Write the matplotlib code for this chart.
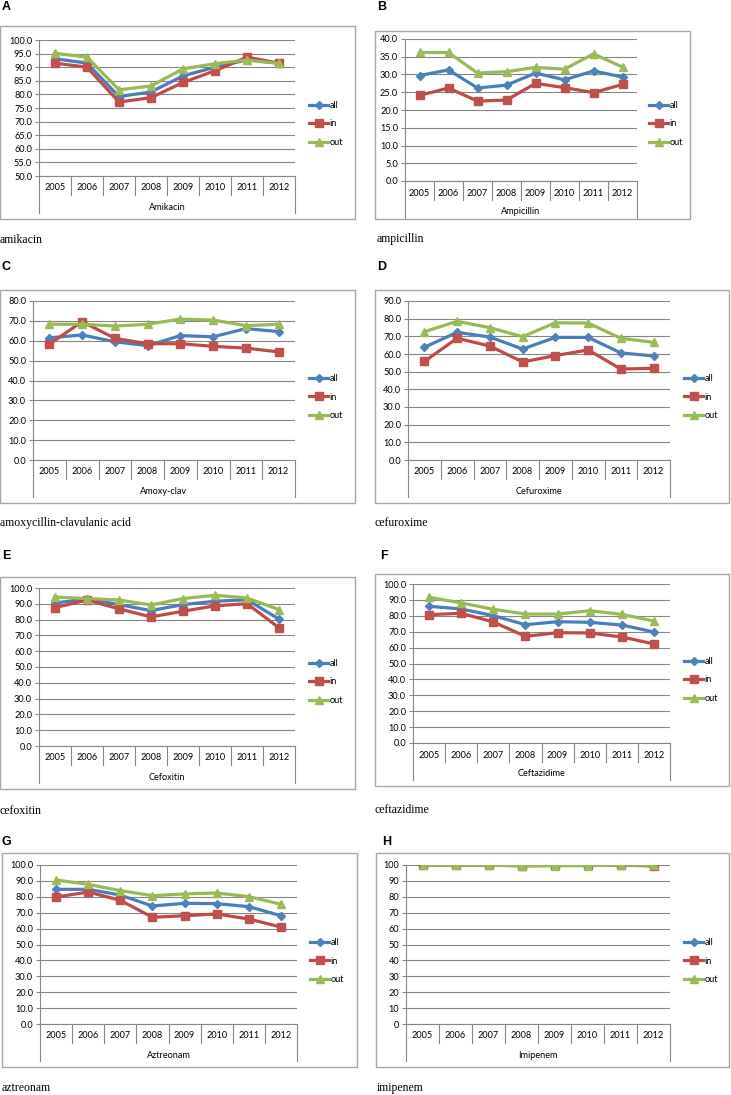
import matplotlib.pyplot as plt
from matplotlib.patches import Rectangle
from matplotlib.lines import Line2D
from matplotlib.transforms import blended_transform_factory

W, H = 731, 1095

years = ['2005', '2006', '2007', '2008', '2009', '2010', '2011', '2012']
series_names = ['all', 'in', 'out']

# resistance values
amikacin_all = [93.1, 91.5, 79.2, 80.9, 86.8, 90.0, 92.7, 91.5]
amikacin_in = [91.5, 90.0, 77.2, 78.8, 84.4, 88.7, 93.7, 91.5]
amikacin_out = [95.1, 93.7, 81.7, 83.1, 89.4, 91.3, 92.6, 91.4]

ampicillin_all = [29.7, 31.3, 26.2, 27.0, 30.4, 28.5, 31.0, 29.3]
ampicillin_in = [24.1, 26.2, 22.5, 22.8, 27.5, 26.3, 24.9, 27.2]
ampicillin_out = [36.2, 36.2, 30.4, 30.8, 32.0, 31.5, 35.8, 32.1]

amoxyclav_all = [61.5, 62.9, 59.5, 57.5, 62.6, 62.0, 66.1, 64.6]
amoxyclav_in = [58.3, 69.6, 61.2, 58.5, 58.5, 57.2, 56.3, 54.4]
amoxyclav_out = [68.3, 68.3, 67.4, 68.3, 70.9, 70.4, 67.6, 68.3]

cefuroxime_all = [63.8, 72.3, 69.6, 62.8, 69.4, 69.4, 60.6, 58.9]
cefuroxime_in = [55.8, 68.9, 64.5, 55.5, 59.1, 62.3, 51.5, 51.9]
cefuroxime_out = [72.6, 78.5, 74.9, 69.8, 77.7, 77.5, 68.9, 66.6]

cefoxitin_all = [90.5, 93.1, 89.5, 85.7, 89.5, 91.6, 92.6, 80.3]
cefoxitin_in = [87.6, 92.4, 86.8, 81.7, 85.3, 88.7, 90.1, 74.8]
cefoxitin_out = [94.3, 93.3, 92.4, 89.3, 93.3, 95.4, 93.7, 86.3]

ceftazidime_all = [86.0, 84.3, 80.1, 74.4, 76.3, 75.9, 74.2, 69.8]
ceftazidime_in = [80.7, 81.6, 76.1, 67.1, 69.4, 69.2, 66.7, 62.3]
ceftazidime_out = [91.6, 88.1, 84.1, 81.1, 81.1, 83.2, 80.9, 76.7]

aztreonam_all = [84.7, 84.7, 81.1, 74.2, 75.9, 75.7, 73.8, 68.1]
aztreonam_in = [79.9, 83.0, 77.8, 67.1, 68.1, 69.2, 66.0, 61.0]
aztreonam_out = [90.6, 87.8, 83.9, 80.7, 81.8, 82.4, 80.1, 75.3]

imipenem_all = [100.0, 100.0, 100.0, 99.8, 99.8, 99.8, 100.0, 99.6]
imipenem_in = [100.0, 100.0, 100.0, 99.6, 99.8, 99.7, 100.0, 99.4]
imipenem_out = [100.0, 100.0, 100.0, 99.3, 99.5, 99.6, 100.0, 99.8]

letters = ['A', 'B', 'C', 'D', 'E', 'F', 'G', 'H']
chart_titles = ['Amikacin', 'Ampicillin', 'Amoxy-clav', 'Cefuroxime',
                'Cefoxitin', 'Ceftazidime', 'Aztreonam', 'Imipenem']
captions = ['amikacin', 'ampicillin', 'amoxycillin-clavulanic acid', 'cefuroxime',
            'cefoxitin', 'ceftazidime', 'aztreonam', 'imipenem']
panel_data = [
    (amikacin_all, amikacin_in, amikacin_out),
    (ampicillin_all, ampicillin_in, ampicillin_out),
    (amoxyclav_all, amoxyclav_in, amoxyclav_out),
    (cefuroxime_all, cefuroxime_in, cefuroxime_out),
    (cefoxitin_all, cefoxitin_in, cefoxitin_out),
    (ceftazidime_all, ceftazidime_in, ceftazidime_out),
    (aztreonam_all, aztreonam_in, aztreonam_out),
    (imipenem_all, imipenem_in, imipenem_out),
]
y_ranges = [(50, 100, 5), (0, 40, 5), (0, 80, 10), (0, 90, 10),
            (0, 100, 10), (0, 100, 10), (0, 100, 10), (0, 100, 10)]
tick_fmt = ['%.1f'] * 7 + ['%d']

# pixel layout: frame box, plot box (left, right, top, bottom), legend x / y, letter, caption
layout = [
    dict(frame=(0, 26, 355, 219), plot=(39, 295, 40, 176), leg=(309, 124), letter=(2, 7), cap=(0, 240)),
    dict(frame=(375, 31, 690, 219), plot=(405, 637, 39, 181), leg=(649, 124), letter=(377, 7), cap=(377, 239)),
    dict(frame=(0, 290, 355, 503), plot=(33, 295, 301, 460), leg=(309, 397), letter=(2, 267), cap=(0, 523)),
    dict(frame=(375, 290, 729, 503), plot=(408, 670, 301, 460), leg=(684, 397), letter=(377, 267), cap=(375, 523)),
    dict(frame=(0, 577, 355, 789), plot=(39, 295, 588, 746), leg=(309, 682), letter=(2, 556), cap=(0, 811)),
    dict(frame=(375, 574, 729, 786), plot=(413, 670, 584, 743), leg=(684, 680), letter=(380, 556), cap=(375, 810)),
    dict(frame=(2, 853, 357, 1067), plot=(40, 297, 865, 1024), leg=(310, 961), letter=(2, 842), cap=(2, 1088)),
    dict(frame=(376, 853, 729, 1067), plot=(406, 670, 865, 1024), leg=(684, 961), letter=(382, 842), cap=(377, 1088)),
]

line_colors = ['#4A7EBB', '#BE4B48', '#98B954']
marker_colors = ['#4F81BD', '#C0504D', '#9BBB59']
markers = ['D', 's', '^']
marker_sizes = [4.2, 5.4, 5.6]
grid_col = '#868686'
font = 'Lato'
fs = 6.6

fig = plt.figure(figsize=(W / 100, H / 100), dpi=100)


def fx(x):
    return x / W


def fy(y):
    return 1 - y / H


for i in range(8):
    L = layout[i]
    x0, y0, x1, y1 = L['frame']
    fig.patches.append(Rectangle((fx(x0), fy(y1)), fx(x1 - x0), (y1 - y0) / H,
                                 transform=fig.transFigure, fill=False,
                                 edgecolor='#A6A6A6', linewidth=1.0))
    pl, pr, pt, pb = L['plot']
    ax = fig.add_axes([fx(pl), fy(pb), fx(pr - pl), (pb - pt) / H])
    lo, hi, step = y_ranges[i]
    xs = list(range(len(years)))
    for k in range(3):
        ax.plot(xs, panel_data[i][k], color=line_colors[k], linewidth=2.3,
                marker=markers[k], markersize=marker_sizes[k],
                markerfacecolor=marker_colors[k], markeredgecolor=marker_colors[k],
                label=series_names[k], zorder=3 + k)
    ax.set_xlim(-0.5, len(years) - 0.5)
    ax.set_ylim(lo, hi)
    ticks = list(range(lo, hi + 1, step))
    ax.set_yticks(ticks)
    ax.set_yticklabels([tick_fmt[i] % t for t in ticks], fontsize=fs, family=font)
    ax.set_xticks([])
    ax.yaxis.grid(True, color=grid_col, linewidth=0.8)
    ax.set_axisbelow(True)
    for s in ['top', 'right']:
        ax.spines[s].set_visible(False)
    ax.spines['left'].set_color(grid_col)
    ax.spines['bottom'].set_color(grid_col)
    ax.spines['left'].set_linewidth(0.8)
    ax.spines['bottom'].set_linewidth(0.8)
    ax.tick_params(axis='y', length=3, width=0.8, color=grid_col, pad=2)

    # Excel-style category axis: boxes under each year, then the chart title
    tr = blended_transform_factory(ax.transData, fig.transFigure)
    for j in range(len(years) + 1):
        xe = j - 0.5
        depth = 37 if j in (0, len(years)) else 19
        ax.add_line(Line2D([xe, xe], [fy(pb), fy(pb + depth)], transform=tr,
                           color=grid_col, linewidth=0.8, clip_on=False))
    for j, yr in enumerate(years):
        ax.text(j, fy(pb + 12), yr, transform=tr, ha='center', va='center',
                fontsize=fs, family=font)
    ax.text((len(years) - 1) / 2, fy(pb + 31), chart_titles[i], transform=tr,
            ha='center', va='center', fontsize=fs, family=font)

    lx, ly = L['leg']
    ax.legend(loc='center left', bbox_to_anchor=(fx(lx), fy(ly)),
              bbox_transform=fig.transFigure, frameon=False, borderpad=0,
              borderaxespad=0, handlelength=2.1, handletextpad=0.15,
              labelspacing=1.05, numpoints=1, prop=dict(family=font, size=fs))

    lx0, ly0 = L['letter']
    fig.text(fx(lx0), fy(ly0), letters[i], ha='left', va='center',
             fontsize=9, fontweight='bold', family='Liberation Sans')
    cx, cy = L['cap']
    fig.text(fx(cx), fy(cy), captions[i], ha='left', va='center',
             fontsize=8.5, family='Liberation Serif')

fig.savefig('out.png', dpi=100)
